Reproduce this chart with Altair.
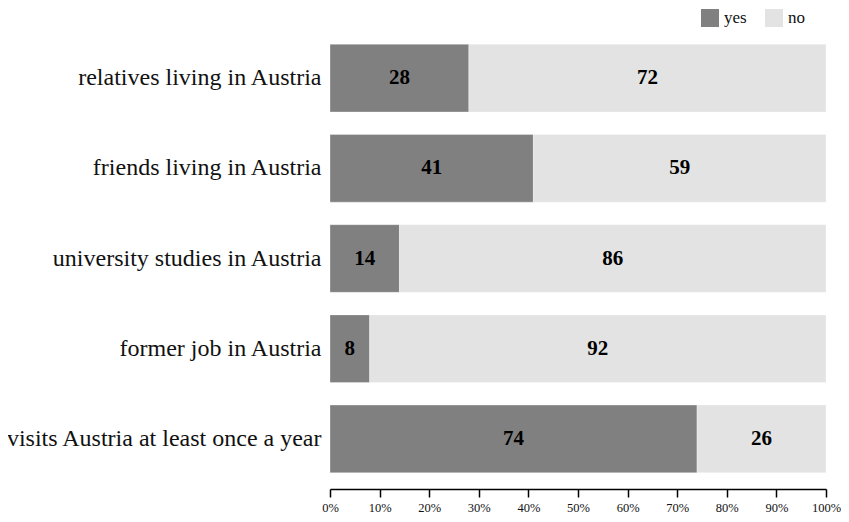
import altair as alt
import pandas as pd

categories = [
    "relatives living in Austria",
    "friends living in Austria",
    "university studies in Austria",
    "former job in Austria",
    "visits Austria at least once a year",
]
yes_values = [28, 41, 14, 8, 74]
no_values = [72, 59, 86, 92, 26]
answers = ["yes", "no"]
colors = ["#808080", "#e3e3e3"]
tick_values = [0, 10, 20, 30, 40, 50, 60, 70, 80, 90, 100]

rows = []
for c, y, n in zip(categories, yes_values, no_values):
    rows.append({"cat": c, "answer": "yes", "value": y, "order": 0})
    rows.append({"cat": c, "answer": "no", "value": n, "order": 1})
df = pd.DataFrame(rows)

FONT = "Liberation Serif"

base = alt.Chart(df).transform_stack(
    stack="value", as_=["x0", "x1"], groupby=["cat"], sort=[alt.SortField("order")]
).transform_calculate(mid="(datum.x0 + datum.x1) / 2")

y_enc = alt.Y(
    "cat:N",
    sort=categories,
    scale=alt.Scale(paddingInner=0.25, paddingOuter=0.125),
    axis=alt.Axis(
        title=None, ticks=False, domain=False, labelFont=FONT, labelFontSize=24,
        labelColor="#111111", labelPadding=9, labelLimit=400,
    ),
)

bars = base.mark_bar(stroke="#ffffff", strokeWidth=0.6, strokeOpacity=0.5).encode(
    x=alt.X(
        "x0:Q",
        scale=alt.Scale(domain=[0, 100], nice=False),
        axis=alt.Axis(
            title=None, values=tick_values, labelExpr="datum.value + '%'",
            labelFont=FONT, labelFontSize=12.5, labelColor="#111111",
            labelFlush=False, labelOverlap=False,
            domainColor="#000000", domainWidth=1.5, tickColor="#000000",
            tickWidth=1.5, tickSize=8, labelPadding=4, grid=False, offset=5,
        ),
    ),
    x2="x1:Q",
    y=y_enc,
    color=alt.Color(
        "answer:N",
        sort=answers,
        scale=alt.Scale(domain=answers, range=colors),
        legend=alt.Legend(
            title=None, orient="none", direction="horizontal", legendX=371,
            legendY=-24, symbolType="square", symbolSize=324, symbolStrokeWidth=0,
            labelFont=FONT, labelFontSize=17, labelColor="#111111",
            columnPadding=18, labelOffset=5,
        ),
    ),
    order=alt.Order("order:Q"),
)

labels = base.mark_text(
    font=FONT, fontSize=21, fontWeight="bold", color="#000000", baseline="middle"
).encode(
    x=alt.X("mid:Q"),
    y=alt.Y("cat:N", sort=categories),
    text=alt.Text("value:Q"),
)

chart = (bars + labels).properties(
    width=496,
    height=451,
    padding={"left": 322, "top": 25, "right": 15, "bottom": 30},
    autosize=alt.AutoSizeParams(type="none"),
    background="#ffffff",
).configure_view(stroke=None)

chart.save("out.html", embed_options={"renderer": "svg", "actions": False})
